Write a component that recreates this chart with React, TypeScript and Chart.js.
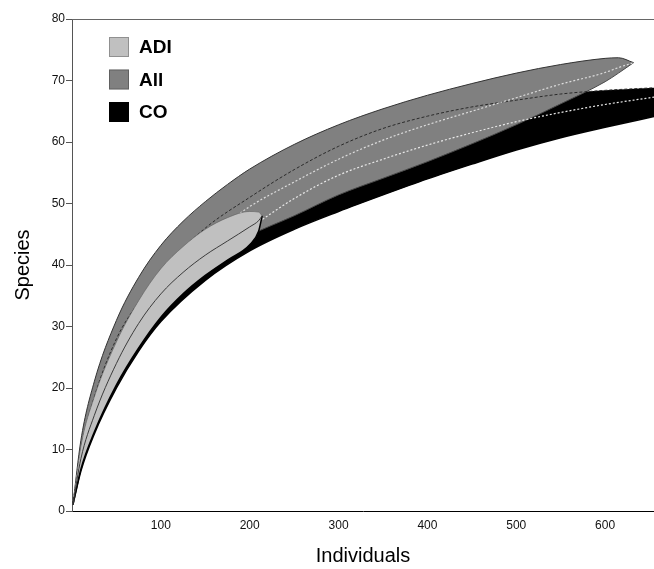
import React, { useEffect, useRef } from 'react';
import { Chart, registerables } from 'chart.js';

Chart.register(...registerables);

// ---- data ----
const adiX = [1, 10, 25, 50, 75, 100, 125, 150, 175, 200, 210, 214];
const adiUpper = [1, 10.5, 18.5, 27.5, 34.2, 39.4, 43, 45.8, 47.7, 48.7, 48.6, 48];
const adiMean = [1, 8.5, 15.5, 24, 30.5, 35.3, 38.8, 41.6, 43.9, 46.2, 47.2, 48];
const adiLower = [1, 6.8, 12.8, 20.5, 26.5, 31.5, 35.3, 38.3, 40.8, 43.3, 45.5, 48];

const allX = [1, 10, 25, 50, 75, 100, 125, 150, 175, 200, 250, 300, 350, 400, 450, 500, 550, 600, 615, 632];
const allUpper = [1, 11.5, 21, 31, 38, 43.2, 47.1, 50.3, 53.1, 55.6, 59.6, 62.8, 65.4, 67.6, 69.5, 71.2, 72.6, 73.6, 73.7, 72.9];
const allMean = [1, 9.5, 17.5, 26, 32, 37, 40.8, 44, 46.9, 49.5, 53.5, 57.2, 60.3, 62.8, 65, 67.2, 69.4, 71.3, 72.1, 72.9];
const allLower = [1, 7.5, 14.5, 22, 28, 32.5, 36.5, 40, 42.6, 44.8, 48, 51.4, 54.1, 56.8, 59.7, 62.8, 66.2, 69.8, 71.2, 72.9];

const coX = [1, 10, 25, 50, 75, 100, 150, 200, 250, 300, 350, 400, 450, 500, 550, 600, 660];
const coUpper = [1, 10, 18.5, 28, 34, 39, 46, 51, 55.5, 59.3, 62.2, 64.2, 65.7, 66.8, 67.8, 68.4, 68.85];
const coMean = [1, 8, 15.5, 23.5, 29.5, 34, 41, 46, 50.8, 54.6, 57.2, 59.5, 61.5, 63.3, 64.8, 66.1, 67.4];
const coLower = [1, 6.5, 12.5, 20, 26, 30.8, 37.5, 42.3, 45.8, 48.7, 51.4, 54, 56.4, 58.7, 60.7, 62.4, 64.3];

const legendLabels = ['ADI', 'All', 'CO'];
const legendColors = ['#c0c0c0', '#808080', '#000000'];

const xTitle = 'Individuals';
const yTitle = 'Species';

const pts = (xs: number[], ys: number[]) => xs.map((x, i) => ({ x, y: ys[i] }));

const FONT = 'Arial, "Liberation Sans", sans-serif';

const decorPlugin = {
  id: 'decor',
  afterDraw(chart: any) {
    const { ctx, chartArea } = chart;
    ctx.save();
    // top frame line
    ctx.strokeStyle = '#666';
    ctx.lineWidth = 1;
    ctx.beginPath();
    ctx.moveTo(chartArea.left, Math.round(chartArea.top) + 0.5);
    ctx.lineTo(chartArea.right, Math.round(chartArea.top) + 0.5);
    ctx.stroke();
    // legend
    const boxX = 109;
    const boxTops = [37, 69.5, 102];
    ctx.font = `bold 19px ${FONT}`;
    ctx.textBaseline = 'middle';
    ctx.textAlign = 'left';
    legendLabels.forEach((label, i) => {
      const top = boxTops[i];
      ctx.fillStyle = legendColors[i];
      ctx.fillRect(boxX, top, 20, 20);
      ctx.strokeStyle = 'rgba(0,0,0,0.25)';
      ctx.strokeRect(boxX + 0.5, top + 0.5, 19, 19);
      ctx.fillStyle = '#000';
      ctx.fillText(label, 139, top + 11);
    });
    ctx.restore();
  },
};

export default function App() {
  const ref = useRef<HTMLCanvasElement>(null);

  useEffect(() => {
    const canvas = ref.current;
    if (!canvas) return;
    const chart = new Chart(canvas, {
      type: 'line',
      data: {
        datasets: [
          // 0: CO band fill
          { label: 'CO', data: pts(coX, coUpper), borderWidth: 0, borderColor: 'rgba(0,0,0,0)', backgroundColor: '#000000', fill: 1, order: 100 },
          // 1: CO lower edge
          { label: 'CO lower', data: pts(coX, coLower), borderWidth: 1.5, borderColor: '#000000', backgroundColor: '#000000', fill: false, order: 99 },
          // 2: All band fill + upper edge
          { label: 'All', data: pts(allX, allUpper), borderWidth: 1, borderColor: '#333333', backgroundColor: '#808080', fill: 3, order: 90 },
          // 3: All lower edge
          { label: 'All lower', data: pts(allX, allLower), borderWidth: 1, borderColor: '#4a4a4a', backgroundColor: '#808080', fill: false, order: 89 },
          // 4: CO upper edge line
          { label: 'CO upper', data: pts(coX, coUpper), borderWidth: 1, borderColor: '#2a2a2a', borderDash: [3, 2], fill: false, order: 80 },
          // 5: CO mean
          { label: 'CO mean', data: pts(coX, coMean), borderWidth: 1.2, borderColor: '#e8e8e8', borderDash: [2, 2], fill: false, order: 79 },
          // 6: All mean
          { label: 'All mean', data: pts(allX, allMean), borderWidth: 1.2, borderColor: '#dcdcdc', borderDash: [2, 2], fill: false, order: 78 },
          // 7: ADI band fill + upper edge
          { label: 'ADI', data: pts(adiX, adiUpper), borderWidth: 1, borderColor: 'rgba(90,90,90,0.55)', backgroundColor: '#c0c0c0', fill: 8, order: 70 },
          // 8: ADI lower edge
          { label: 'ADI lower', data: pts(adiX, adiLower), borderWidth: 1.5, borderColor: '#000000', fill: false, order: 69 },
          // 9: ADI mean
          { label: 'ADI mean', data: pts(adiX, adiMean), borderWidth: 1, borderColor: '#3c3c3c', fill: false, order: 68 },
        ] as any,
      },
      options: {
        responsive: false,
        animation: false,
        devicePixelRatio: 1,
        layout: { padding: { top: 19, left: 0, right: 0, bottom: 0 } },
        elements: {
          point: { radius: 0, hoverRadius: 0 },
          line: { cubicInterpolationMode: 'monotone' },
        },
        plugins: {
          legend: { display: false },
          tooltip: { enabled: false },
        },
        events: [],
        scales: {
          x: {
            type: 'linear',
            min: 0,
            max: 655,
            afterFit: (s: any) => { s.height = 58; },
            border: { display: true, color: '#000', width: 1 },
            grid: { display: true, drawOnChartArea: false, drawTicks: false },
            ticks: {
              stepSize: 100,
              includeBounds: false,
              padding: 7,
              color: '#111',
              font: { family: FONT, size: 12 },
              maxRotation: 0,
              callback: (v: any) => (v === 0 ? '' : String(v)),
            },
            title: {
              display: true,
              text: xTitle,
              color: '#000',
              font: { family: FONT, size: 20 },
              padding: { top: 0, bottom: 1 },
            },
          },
          y: {
            type: 'linear',
            min: 0,
            max: 80,
            afterFit: (s: any) => { s.width = 72; },
            border: { display: true, color: '#555', width: 1 },
            grid: { display: true, drawOnChartArea: false, drawTicks: true, tickLength: 6, color: '#555' },
            ticks: {
              stepSize: 10,
              padding: 1,
              color: '#111',
              font: { family: FONT, size: 12 },
            },
            title: {
              display: true,
              text: yTitle,
              color: '#000',
              font: { family: FONT, size: 20 },
              padding: { top: 11, bottom: 0 },
            },
          },
        },
      } as any,
      plugins: [decorPlugin],
    });
    return () => chart.destroy();
  }, []);

  return (
    <div style={{ position: 'absolute', left: 0, top: 0, width: 654, height: 569, background: '#fff' }}>
      <canvas ref={ref} width={654} height={569} style={{ display: 'block' }} />
    </div>
  );
}
